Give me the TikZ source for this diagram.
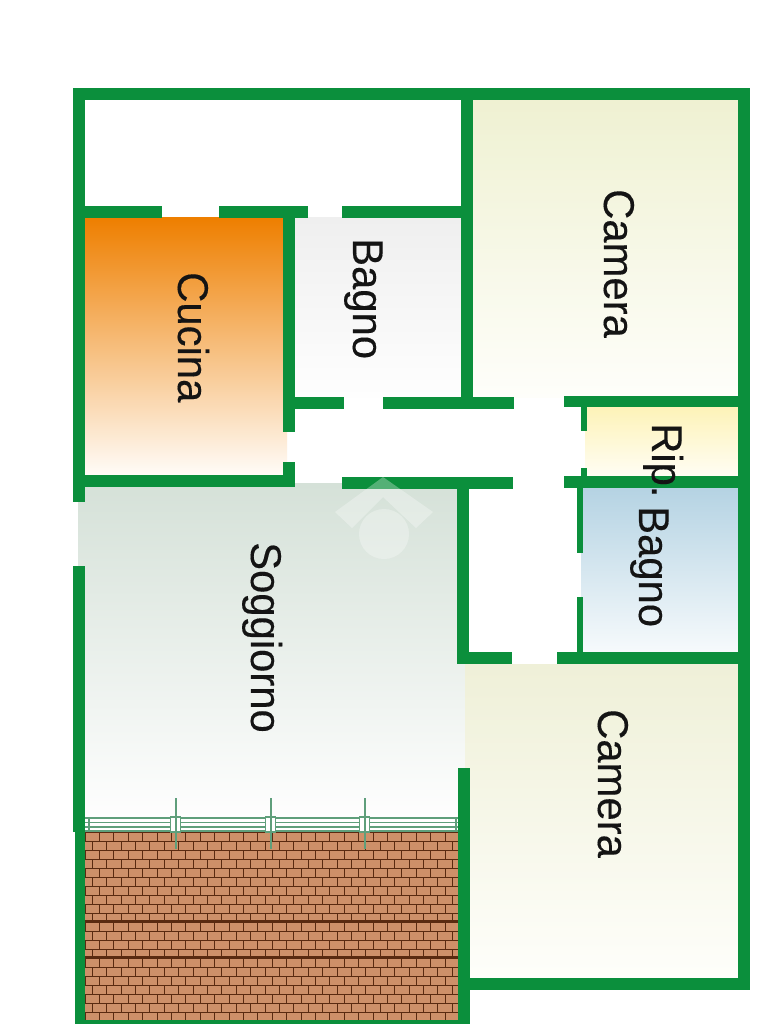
\documentclass[tikz,border=0pt]{standalone}
\usepackage{fontspec}
\setmainfont{Liberation Sans}
\newfontfamily\labelfont[FakeBold=0.25]{Liberation Sans}
\definecolor{wallgreen}{HTML}{0B8F3C}
\definecolor{labelink}{HTML}{141414}
\definecolor{railgreen}{HTML}{5F9F7B}
\definecolor{brick}{HTML}{CE9069}
\definecolor{mortar}{HTML}{5A2A10}
\definecolor{camtop}{HTML}{EFF1D2}
\definecolor{cambot}{HTML}{FEFEFA}
\definecolor{cuctop}{HTML}{EE7F00}
\definecolor{cucbot}{HTML}{FFFCF8}
\definecolor{bagtop}{HTML}{EFEFEF}
\definecolor{bagbot}{HTML}{FEFEFE}
\definecolor{riptop}{HTML}{FDF3B8}
\definecolor{ripbot}{HTML}{FFFDF4}
\definecolor{blutop}{HTML}{B5D3E3}
\definecolor{blubot}{HTML}{F6FAFC}
\definecolor{sogtop}{HTML}{D5E1D8}
\definecolor{sogbot}{HTML}{FEFEFE}
\definecolor{cm2top}{HTML}{EFF0D8}
\definecolor{cm2bot}{HTML}{FEFEFA}
\tikzset{
  wallfill/.style={fill=wallgreen,draw=none},
  roomlabel/.style={rotate=-90,anchor=base west,inner sep=0pt,text=labelink,font=\labelfont\fontsize{41.8}{41.8}\selectfont},
  railline/.style={draw=railgreen,line width=1.5},
  ghost/.style={fill=white,opacity=0.3,draw=none},
  mortarline/.style={draw=mortar,line width=0.8},
  mortarheavy/.style={draw=mortar,line width=1.2}
}
\newcommand{\wall}[4]{\fill[wallfill] (#1,#2) rectangle (#3,#4);}
\newcommand{\room}[6]{\shade[top color=#5,bottom color=#6,draw=none] (#1,#2) rectangle (#3,#4);}
\newcommand{\lbl}[1]{\scalebox{1}[1.03]{#1}}
\begin{document}
\begin{tikzpicture}[x=1pt,y=-1pt]
\useasboundingbox (0,0) rectangle (768,1024);
\fill[white] (0,0) rectangle (768,1024);
% rooms
\room{473}{100}{738}{397}{camtop}{cambot}
\room{85}{218}{287}{475}{cuctop}{cucbot}
\room{295}{218}{461}{397}{bagtop}{bagbot}
\room{585}{407}{738}{476}{riptop}{ripbot}
\room{581}{488}{738}{652}{blutop}{blubot}
\shade[top color=sogtop,bottom color=sogbot,draw=none] (78,483) -- (458,483) -- (458,664) -- (465,664) -- (465,818) -- (78,818) -- cycle;
\room{465}{664}{738}{978}{cm2top}{cm2bot}
% pavement
\fill[brick] (85,832) rectangle (458,1020);
\begin{scope}
\clip (85,832) rectangle (458,1020);
\draw[mortarheavy] (85,832.5) -- (458,832.5);
\foreach \r in {0,...,20}{
  \pgfmathsetmacro{\yy}{832+9*\r}
  \pgfmathsetmacro{\yb}{\yy+9}
  \pgfmathsetmacro{\off}{mod(\r,2)*7.2}
  \draw[mortarline] (85,\yb) -- (458,\yb);
  \foreach \c in {0,...,26}{
    \pgfmathsetmacro{\xx}{85+\off+14.4*\c}
    \draw[mortarline] (\xx,\yy) -- (\xx,\yb);
  }
}
\draw[mortarheavy] (85,921) -- (458,921);
\draw[mortarheavy] (85,957) -- (458,957);
\end{scope}
% balustrade
\foreach \yy in {818,822.5,827,831}{\draw[railline] (85,\yy) -- (458,\yy);}
\draw[railline] (89,818) -- (89,832);
\draw[railline] (456,818) -- (456,832);
\foreach \xx in {175.7,270.7,364.7}{
  \fill[white] (\xx-5,817) rectangle (\xx+5,832);
  \draw[railline] (\xx-5,817) rectangle (\xx+5,832);
  \draw[railgreen,line width=1.8] (\xx,798) -- (\xx,849);
}
% walls
\wall{73}{88}{750}{100}
\wall{73}{88}{85}{502}
\wall{73}{566}{85}{832}
\wall{75}{832}{85}{1024}
\wall{75}{1020}{470}{1024}
\wall{738}{88}{750}{990}
\wall{458}{978}{750}{990}
\wall{461}{88}{473}{403}
\wall{85}{206}{162}{218}
\wall{219}{206}{308}{218}
\wall{342}{206}{461}{218}
\wall{283}{212}{295}{432}
\wall{295}{397}{344}{409}
\wall{383}{397}{514}{409}
\wall{564}{396}{738}{407}
\wall{581}{407}{587}{431}
\wall{581}{468}{587}{476}
\wall{85}{475}{295}{487}
\wall{283}{462}{295}{487}
\wall{342}{477}{513}{489}
\wall{564}{476}{738}{488}
\wall{457}{489}{469}{664}
\wall{458}{652}{512}{664}
\wall{557}{652}{738}{664}
\wall{577}{488}{583}{553}
\wall{577}{597}{583}{652}
\wall{458}{768}{470}{1024}
% labels
\node[roomlabel] (cam1) at (604,189) {\lbl{Camera}};
\node[roomlabel] (bag1) at (353,238) {\lbl{Bagno}};
\node[roomlabel] (cuc) at (178,272) {\lbl{Cucina}};
\node[roomlabel] (sog) at (251,542) {\lbl{Soggiorno}};
\node[roomlabel] (cam2) at (598,709) {\lbl{Camera}};
\node[roomlabel] (rip) at (652,423) {\lbl{Rip.}};
\node[roomlabel] (bag2) at (639,506) {\lbl{Bagno}};
% watermark
\fill[ghost] (383,477) -- (433,512) -- (416,528) -- (383,497) -- (352,528) -- (335,512) -- cycle;
\fill[ghost] (384,534) circle (25);
\end{tikzpicture}
\end{document}
